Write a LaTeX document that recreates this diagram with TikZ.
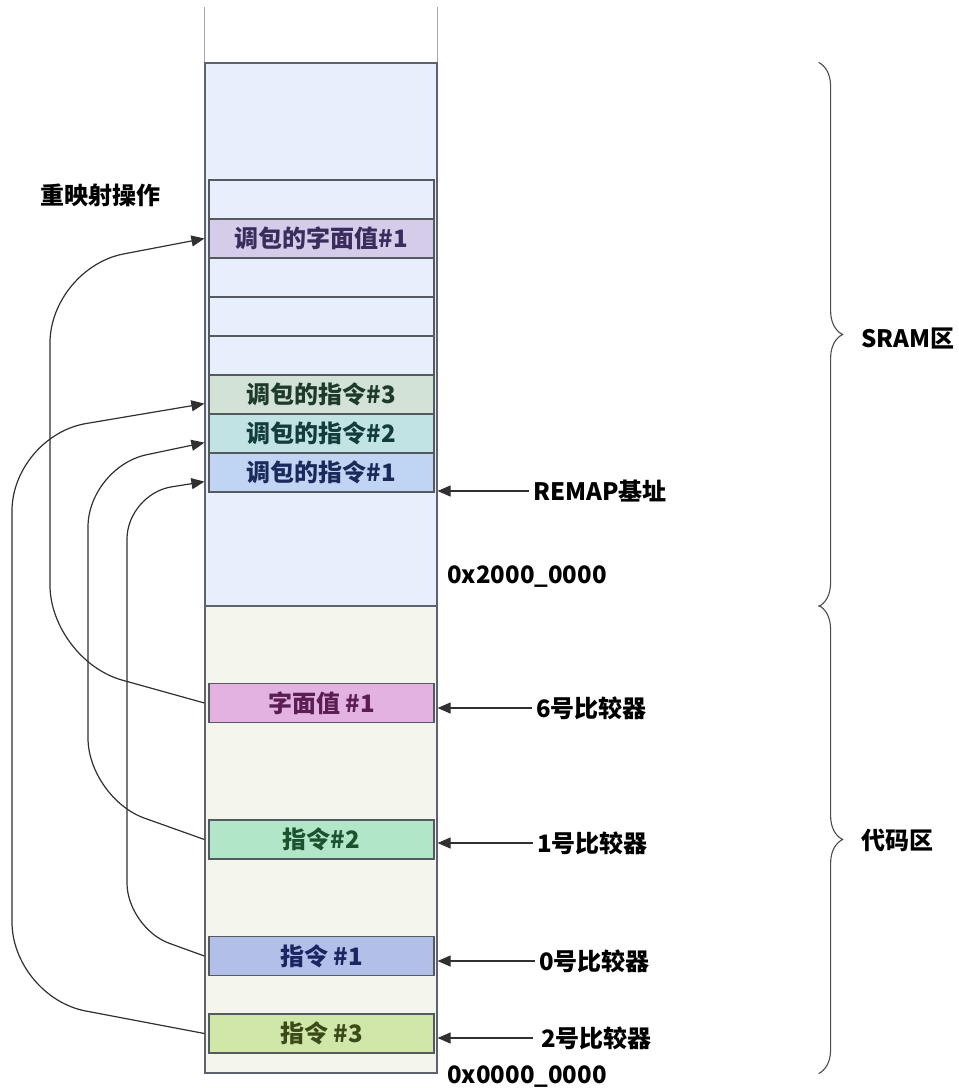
\documentclass[tikz,border=0pt]{standalone}
\usepackage{fontspec}
\setmainfont{Noto Sans CJK SC}
\usetikzlibrary{positioning,arrows.meta,calc,decorations.pathreplacing}

\definecolor{sramfill}{HTML}{E8EFFC}
\definecolor{codefill}{HTML}{F4F5EC}
\definecolor{colline}{HTML}{5E6270}
\definecolor{cellline}{HTML}{555A60}
\definecolor{arrline}{HTML}{303030}
\definecolor{rplitfill}{HTML}{D5CCEA}
\definecolor{rplittext}{HTML}{3A2C5C}
\definecolor{rpthreefill}{HTML}{D3E2D6}
\definecolor{rpthreetext}{HTML}{1E3A2A}
\definecolor{rptwofill}{HTML}{C1E3E4}
\definecolor{rptwotext}{HTML}{133C3C}
\definecolor{rponefill}{HTML}{C0D4F3}
\definecolor{rponetext}{HTML}{1A2A5A}
\definecolor{litfill}{HTML}{E3B2E0}
\definecolor{littext}{HTML}{5A1E52}
\definecolor{instwofill}{HTML}{B2E6C9}
\definecolor{instwotext}{HTML}{1D5230}
\definecolor{insonefill}{HTML}{B1BFE9}
\definecolor{insonetext}{HTML}{1A2662}
\definecolor{insthreefill}{HTML}{D1E6A9}
\definecolor{insthreetext}{HTML}{3A4A18}

\begin{document}
\begin{tikzpicture}[
    x=1pt, y=-1pt,
    font=\fontsize{24}{27}\selectfont\bfseries,
    region/.style={draw=colline, line width=1.2pt, minimum width=232pt, inner sep=0pt},
    cell/.style={draw=cellline, line width=1.2pt, minimum width=225pt, minimum height=39pt, inner sep=0pt},
    arr/.style={draw=arrline, line width=1.2pt, -{Triangle[length=13pt,width=11pt]}},
    lbl/.style={anchor=west, inner sep=4pt},
    bracelines/.style={draw=gray!60!black, line width=1.1pt, decorate, decoration={brace, amplitude=24pt}}
]
\useasboundingbox (0,0) rectangle (959,1088);

  % memory column
  \node[region, fill=sramfill, minimum height=543pt] (sram) at (321,334.5) {};
  \node[region, fill=codefill, minimum height=467pt] (code) at (321,839.5) {};
  \draw[gray!70, line width=1.5pt] (sram.north west) -- ++(0,-55);
  \draw[gray!70, line width=1.5pt] (sram.north east) -- ++(0,-55);

  % SRAM rows
  \foreach \y in {199.5,277.5,316.5,355.5}
    \node[cell, fill=sramfill] at (321.5,\y) {};
  \node[cell, fill=rplitfill, text=rplittext] (rplit) at (321.5,238.5) {调包的字面值\#1};
  \node[cell, fill=rpthreefill, text=rpthreetext] (rp3) at (321.5,394.5) {调包的指令\#3};
  \node[cell, fill=rptwofill, text=rptwotext] (rp2) at (321.5,433.5) {调包的指令\#2};
  \node[cell, fill=rponefill, text=rponetext] (rp1) at (321.5,472.5) {调包的指令\#1};

  % code rows
  \node[cell, fill=litfill, text=littext] (lit) at (321.5,703) {字面值 \#1};
  \node[cell, fill=instwofill, text=instwotext] (ins2) at (321.5,839.5) {指令\#2};
  \node[cell, fill=insonefill, text=insonetext] (ins1) at (321.5,956) {指令 \#1};
  \node[cell, fill=insthreefill, text=insthreetext] (ins3) at (321.5,1033.5) {指令 \#3};

  % remap arrows
  \node[lbl] (remapop) at (36,195) {重映射操作};
  \draw[arr, rounded corners=75pt] (lit.west -| code.west) -- (50,660) -- (50,268) -- (rplit.west -| sram.west);
  \draw[arr, rounded corners=60pt] (ins2.west -| code.west) -- (88,798) -- (88,467) -- ($(rp2.south -| sram.west)+(0,-11)$);
  \draw[arr, rounded corners=45pt] (ins1.west -| code.west) -- (127,928) -- (127,494) -- ($(rp1.south -| sram.west)+(0,-11)$);
  \draw[arr, rounded corners=75pt] (ins3.west -| code.west) -- (12,997) -- (12,436) -- ($(rp3.south -| sram.west)+(0,-11)$);

  % comparators
  \node[lbl] (remap) at (529,491) {REMAP基址};
  \node[lbl] (cmp6) at (532,708) {6号比较器};
  \node[lbl] (cmp1) at (533,843) {1号比较器};
  \node[lbl] (cmp0) at (535,961) {0号比较器};
  \node[lbl] (cmp2) at (537,1038) {2号比较器};
  \draw[arr] (remap.west) -- (remap.west -| sram.east);
  \draw[arr] (cmp6.west) -- (cmp6.west -| code.east);
  \draw[arr] (cmp1.west) -- (cmp1.west -| code.east);
  \draw[arr] (cmp0.west) -- (cmp0.west -| code.east);
  \draw[arr] ([xshift=-4pt]cmp2.west) -- (cmp2.west -| code.east);

  % addresses
  \node[lbl] (addrsram) at (443,577) {0x2000\_0000};
  \node[lbl] (addrcode) at (443,1077) {0x0000\_0000};

  % regions
  \draw[bracelines] ([xshift=381pt]sram.north east) -- ([xshift=381pt]sram.south east);
  \draw[bracelines] ([xshift=381pt]code.north east) -- ([xshift=381pt]code.south east);
  \node[lbl] (sramlbl) at (857,338) {SRAM区};
  \node[lbl] (codelbl) at (857,840) {代码区};
\end{tikzpicture}
\end{document}
